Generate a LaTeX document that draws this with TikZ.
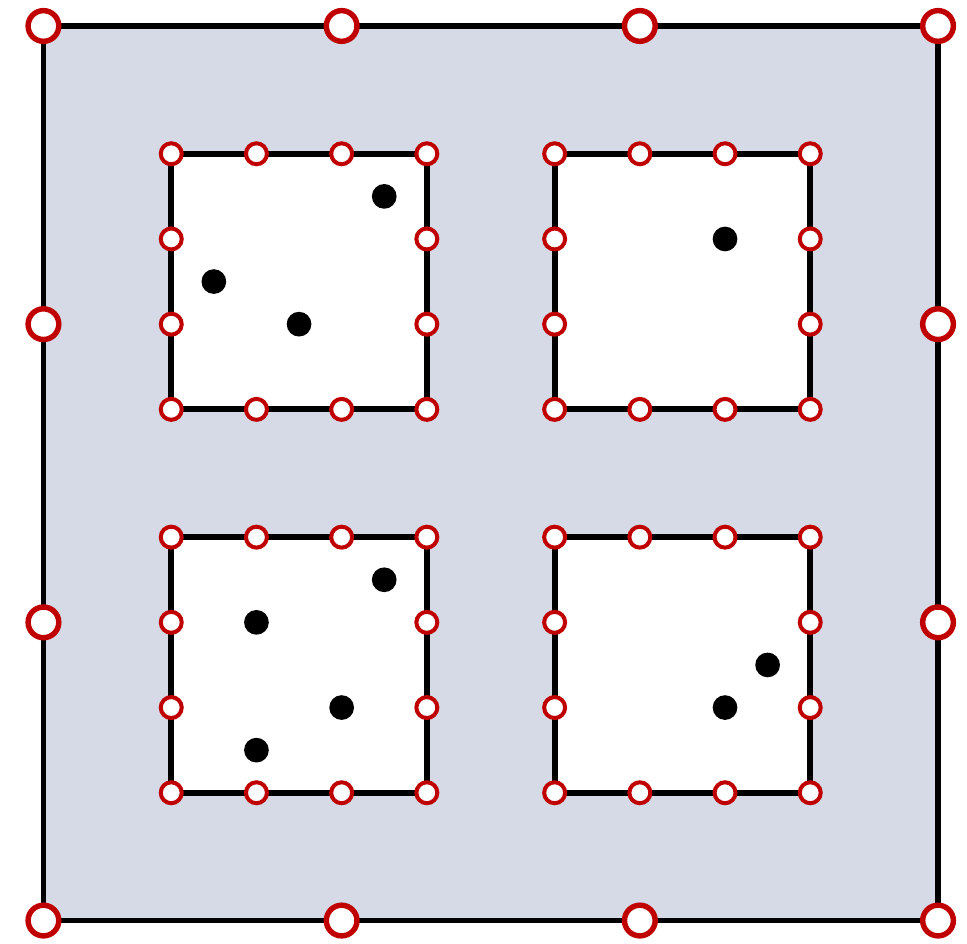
\documentclass[tikz,border=0pt]{standalone}
\usepackage{tikz}
\usetikzlibrary{backgrounds}
\definecolor{panel}{RGB}{213,218,230}
\definecolor{portred}{RGB}{192,0,0}

\begin{document}
\begin{tikzpicture}[x=0.8cm,y=0.8cm,
  wall/.style={line width=1.55pt,line join=miter},
  outerport/.style={circle,draw=portred,fill=white,line width=1.45pt,inner sep=0pt,minimum size=8.2pt},
  innerport/.style={circle,draw=portred,fill=white,line width=1.07pt,inner sep=0pt,minimum size=5.6pt},
  token/.style={circle,fill=black,inner sep=0pt,minimum size=6.6pt}]
\useasboundingbox (-0.51,-0.27) rectangle (10.84,10.805);

\foreach \i/\j in {0/0,1/0,2/0,3/0,0/1,3/1,0/2,3/2,0/3,1/3,2/3,3/3}
  \node[outerport] (o-\i-\j) at (3.5*\i,3.5*\j) {};

\foreach \cell/\cx/\cy in {a/1.5/6,b/6/6,c/1.5/1.5,d/6/1.5}
  \foreach \i/\j in {0/0,1/0,2/0,3/0,0/1,3/1,0/2,3/2,0/3,1/3,2/3,3/3}
    \node[innerport] (\cell-\i-\j) at (\cx+\i,\cy+\j) {};

\node[token] (a1) at (4,8.5) {};
\node[token] (a2) at (2,7.5) {};
\node[token] (a3) at (3,7) {};
\node[token] (b1) at (8,8) {};
\node[token] (c1) at (4,4) {};
\node[token] (c2) at (2.5,3.5) {};
\node[token] (c3) at (3.5,2.5) {};
\node[token] (c4) at (2.5,2) {};
\node[token] (d1) at (8.5,3) {};
\node[token] (d2) at (8,2.5) {};

\begin{scope}[on background layer]
\draw[wall,fill=panel] (o-0-0.center) -- (o-3-0.center) -- (o-3-3.center) -- (o-0-3.center) -- cycle;
\foreach \cell in {a,b,c,d}
  \draw[wall,fill=white] (\cell-0-0.center) -- (\cell-3-0.center) -- (\cell-3-3.center) -- (\cell-0-3.center) -- cycle;
\end{scope}
\end{tikzpicture}
\end{document}
